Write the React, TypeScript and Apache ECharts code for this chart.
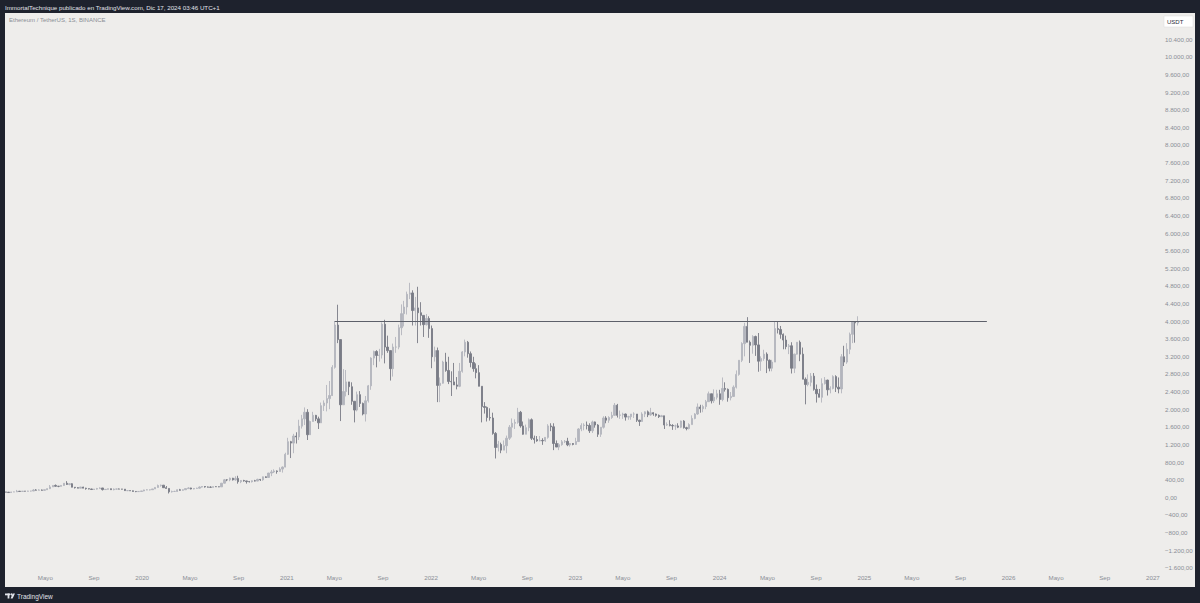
import React, { useEffect, useRef } from 'react';
import * as echarts from 'echarts';

// ---------- DATA (weekly ETH/USDT candles, Binance) ----------
// Each row: [high, low, close]; a week's open is the previous week's close.
const firstWeekStart = '2019-01-21';
const firstOpen = 119;

const w2019: number[][] = [
  [123, 113, 116], [117, 102, 107], [124, 104, 120], [125, 118, 121], [166, 121, 137],
  [142, 130, 131], [141, 124, 139], [140, 131, 136], [146, 133, 141], [144, 131, 141],
  [185, 139, 164], [183, 155, 161], [180, 158, 164], [175, 150, 158], [168, 151, 170],
  [200, 165, 195], [278, 186, 234], [270, 235, 268], [290, 240, 250], [255, 228, 247],
  [273, 243, 268], [320, 260, 318], [366, 280, 291], [315, 272, 307], [318, 226, 228],
  [233, 198, 218], [230, 205, 206], [235, 205, 232], [238, 205, 206], [215, 172, 195],
  [200, 180, 187], [192, 164, 178], [186, 170, 185], [212, 174, 197], [226, 196, 211],
  [212, 153, 174], [184, 169, 180], [196, 175, 194], [196, 170, 172], [200, 157, 185],
  [192, 176, 187], [197, 182, 185], [189, 180, 184], [185, 142, 151], [160, 140, 151],
  [152, 144, 147], [152, 130, 132], [135, 116, 128], [133, 122, 132], [145, 125, 143],
];

const w2020: number[][] = [
  [171, 136, 166], [180, 160, 168], [172, 155, 171], [190, 167, 189], [229, 187, 223],
  [288, 222, 267], [287, 240, 274], [279, 210, 217], [254, 198, 200], [202, 86, 123],
  [150, 107, 131], [147, 122, 131], [178, 124, 170], [190, 150, 158], [176, 150, 170],
  [200, 168, 196], [228, 190, 211], [216, 178, 187], [210, 180, 199], [217, 196, 206],
  [248, 197, 231], [253, 220, 244], [250, 220, 233], [243, 225, 229], [249, 216, 225],
  [245, 222, 241], [249, 235, 239], [244, 230, 236], [324, 234, 319], [415, 313, 396],
  [410, 365, 395], [445, 363, 433], [440, 380, 395], [477, 375, 428], [488, 308, 353],
  [390, 320, 381], [395, 355, 371], [375, 310, 356], [370, 335, 353], [380, 335, 374],
  [395, 360, 368], [420, 363, 406], [415, 370, 396], [470, 375, 464], [475, 440, 449],
  [555, 440, 549], [620, 480, 575], [635, 550, 597], [610, 535, 584], [680, 580, 640],
  [700, 560, 685], [1010, 680, 975],
];

const w2021: number[][] = [
  [1350, 960, 1262], [1280, 890, 1230], [1440, 1000, 1390], [1476, 1220, 1370], [1760, 1300, 1615],
  [1870, 1560, 1780], [2040, 1640, 1930], [2000, 1300, 1420], [1740, 1420, 1720], [1940, 1720, 1860],
  [1870, 1730, 1780], [1830, 1550, 1690], [2150, 1690, 2080], [2200, 1960, 2140], [2550, 1950, 2240],
  [2640, 2000, 2310], [3000, 2300, 2950], [4000, 2920, 3910], [4372, 3500, 3580], [3560, 1730, 2100],
  [2910, 2100, 2400], [2890, 2290, 2620], [2620, 2320, 2510], [2610, 2100, 2180], [2180, 1700, 1980],
  [2400, 1950, 2330], [2410, 2050, 2130], [2150, 1860, 1890], [2300, 1720, 2190], [2550, 2150, 2530],
  [3180, 2440, 3160], [3330, 3000, 3310], [3340, 2950, 3220], [3370, 3080, 3230], [3970, 3150, 3930],
  [4030, 3040, 3410], [3670, 3280, 3330], [3300, 2650, 2920], [3490, 2740, 3410], [3640, 3280, 3410],
  [3920, 3360, 3850], [4380, 3680, 4170], [4460, 3880, 4320], [4670, 4150, 4610], [4870, 4500, 4640],
  [4700, 3900, 4240], [4550, 3900, 4300], [4780, 3500, 4190], [4430, 3900, 4130], [4100, 3640, 3920],
  [4160, 3900, 4060], [4110, 3620, 3830],
];

const w2022: number[][] = [
  [3900, 2930, 3190], [3420, 3080, 3330], [3400, 2160, 2540], [2720, 2160, 2590], [3100, 2580, 3070],
  [3280, 2850, 2880], [3190, 2570, 2630], [2860, 2300, 2620], [3050, 2570, 2550], [2730, 2450, 2520],
  [3050, 2500, 2860], [3320, 2830, 3300], [3580, 3200, 3520], [3550, 3170, 3260], [3310, 2950, 3060],
  [3190, 2850, 2920], [3040, 2700, 2830], [3000, 2520, 2520], [2520, 1700, 2060], [2160, 1900, 2040],
  [2060, 1720, 1810], [2020, 1740, 1800], [1920, 1420, 1450], [1480, 880, 1130], [1280, 1040, 1200],
  [1240, 1000, 1070], [1290, 1070, 1170], [1400, 1000, 1340], [1640, 1300, 1590], [1790, 1360, 1680],
  [1770, 1550, 1700], [2030, 1670, 1930], [1960, 1580, 1620], [1720, 1420, 1430], [1650, 1430, 1580],
  [1790, 1500, 1760], [1790, 1300, 1340], [1400, 1220, 1310], [1390, 1260, 1280], [1390, 1270, 1290],
  [1340, 1190, 1280], [1350, 1260, 1360], [1660, 1330, 1620], [1680, 1500, 1600], [1680, 1070, 1220],
  [1290, 1150, 1140], [1230, 1070, 1195], [1300, 1170, 1260], [1300, 1230, 1270], [1350, 1160, 1190],
  [1230, 1150, 1220], [1230, 1180, 1200],
];

const w2023: number[][] = [
  [1350, 1190, 1265], [1570, 1260, 1550], [1680, 1500, 1630], [1680, 1520, 1640], [1720, 1540, 1630],
  [1680, 1460, 1510], [1740, 1460, 1710], [1720, 1580, 1640], [1660, 1370, 1430], [1590, 1370, 1590],
  [1840, 1560, 1800], [1840, 1680, 1750], [1840, 1690, 1810], [1940, 1780, 1860], [2140, 1850, 2090],
  [2120, 1810, 1860], [1970, 1780, 1870], [1920, 1780, 1890], [1900, 1740, 1820], [1850, 1760, 1830],
  [1860, 1760, 1890], [1930, 1800, 1890], [1890, 1710, 1750], [1760, 1620, 1720], [1930, 1720, 1890],
  [1950, 1820, 1940], [1970, 1820, 1870], [2030, 1850, 1920], [1930, 1850, 1890], [1900, 1830, 1860],
  [1880, 1800, 1830], [1870, 1820, 1850], [1850, 1550, 1640], [1700, 1620, 1650], [1750, 1610, 1630],
  [1660, 1530, 1620], [1650, 1530, 1620], [1680, 1570, 1590], [1740, 1570, 1730], [1750, 1560, 1580],
  [1600, 1520, 1560], [1680, 1540, 1650], [1860, 1650, 1790], [1910, 1770, 1890], [2130, 1870, 2050],
  [2100, 1920, 2010], [2100, 1930, 2060], [2210, 2000, 2170], [2400, 2180, 2350], [2350, 2130, 2190],
  [2450, 2140, 2270], [2440, 2220, 2350],
];

const w2024: number[][] = [
  [2440, 2100, 2220], [2720, 2180, 2470], [2610, 2400, 2450], [2470, 2170, 2260], [2390, 2200, 2290],
  [2540, 2280, 2500], [2880, 2470, 2790], [3030, 2760, 3110], [3520, 3070, 3490], [3960, 3200, 3880],
  [4090, 3570, 3520], [3560, 3050, 3450], [3680, 3260, 3650], [3670, 3210, 3460], [3730, 2850, 3090],
  [3200, 2870, 3150], [3350, 3100, 3250], [3290, 2820, 3110], [3130, 2860, 2930], [3120, 2860, 3070],
  [3980, 3070, 3830], [3980, 3720, 3810], [3890, 3600, 3700], [3720, 3360, 3570], [3670, 3360, 3420],
  [3480, 3250, 3440], [3520, 2810, 2930], [3260, 2820, 3250], [3520, 3240, 3520], [3560, 3090, 3250],
  [3400, 2700, 2680], [2720, 2110, 2560], [2790, 2520, 2610], [2820, 2520, 2750], [2820, 2420, 2450],
  [2560, 2150, 2350], [2460, 2270, 2270], [2700, 2150, 2580], [2730, 2560, 2660], [2670, 2310, 2440],
  [2520, 2360, 2470], [2770, 2450, 2740], [2770, 2390, 2500], [2720, 2360, 2460], [3250, 2360, 3190],
  [3440, 2980, 3070], [3500, 3030, 3360], [3740, 3250, 3700], [4000, 3500, 3990], [4000, 3510, 3960],
  [4110, 3900, 3990],
];

// Horizontal level drawn on the chart
const levelValue = 4000;
const levelStart = '2021-05-02';
const levelEnd = '2025-11-07';

// Time-axis tick labels
const xTickDates = [
  '2019-05-01', '2019-09-01', '2020-01-01', '2020-05-01', '2020-09-01', '2021-01-01',
  '2021-05-01', '2021-09-01', '2022-01-01', '2022-05-01', '2022-09-01', '2023-01-01',
  '2023-05-01', '2023-09-01', '2024-01-01', '2024-05-01', '2024-09-01', '2025-01-01',
  '2025-05-01', '2025-09-01', '2026-01-01', '2026-05-01', '2026-09-01', '2027-01-01',
];
const xTickLabels = [
  'Mayo', 'Sep', '2020', 'Mayo', 'Sep', '2021',
  'Mayo', 'Sep', '2022', 'Mayo', 'Sep', '2023',
  'Mayo', 'Sep', '2024', 'Mayo', 'Sep', '2025',
  'Mayo', 'Sep', '2026', 'Mayo', 'Sep', '2027',
];
const xViewStart = '2019-01-19';
const xViewEnd = '2027-01-19';

// Price axis
const yMin = -1600;
const yMax = 10400;
const yStep = 400;

// Texts
const headerText = 'ImmortalTechnique publicado en TradingView.com, Dic 17, 2024 03:46 UTC+1';
const symbolText = 'Ethereum / TetherUS, 1S, BINANCE';
const currencyText = 'USDT';
const brandText = 'TradingView';

// ---------- helpers ----------
const ts = (d: string) => Date.parse(d + 'T00:00:00Z');
const WEEK_MS = 7 * 86400000;

function buildCandles() {
  const rows = [...w2019, ...w2020, ...w2021, ...w2022, ...w2023, ...w2024];
  const t0 = ts(firstWeekStart);
  let open = firstOpen;
  return rows.map(([h, l, c], i) => {
    const item = [t0 + i * WEEK_MS, open, c, Math.min(l, open, c), Math.max(h, open, c)];
    open = c;
    return item;
  });
}

function fmtPrice(v: number) {
  const a = Math.abs(v).toFixed(0).replace(/\B(?=(\d{3})+(?!\d))/g, '.');
  return (v < 0 ? '\u2212' : '') + a + ',00';
}

const FRAME = '#1e222d';
const PANEL = '#eeedeb';
const FONT = 'Liberation Sans, Arial, sans-serif';
const UP = '#b3b5bd';
const DOWN = '#797c86';

export default function App() {
  const ref = useRef<HTMLDivElement>(null);

  useEffect(() => {
    if (!ref.current) return;
    const chart = echarts.init(ref.current, undefined, { renderer: 'svg' });
    const candles = buildCandles();
    const tickTs = xTickDates.map(ts);
    const labelMap = new Map<number, string>();
    tickTs.forEach((t, i) => labelMap.set(t, xTickLabels[i]));

    const option: any = {
      animation: false,
      backgroundColor: PANEL,
      textStyle: { fontFamily: FONT },
      grid: {
        left: 5,
        right: 40,
        top: 39.3,
        bottom: 35.3,
        outerBoundsMode: 'none',
        containLabel: false,
      },
      xAxis: {
        type: 'value',
        min: ts(xViewStart),
        max: ts(xViewEnd),
        axisLine: { show: false },
        axisTick: { show: false },
        splitLine: { show: false },
        axisLabel: {
          customValues: tickTs,
          formatter: (v: number) => labelMap.get(v) ?? '',
          color: '#8a8d96',
          fontSize: 6.2,
          margin: 7,
          fontFamily: FONT,
        },
      },
      yAxis: {
        type: 'value',
        position: 'right',
        min: yMin,
        max: yMax,
        interval: yStep,
        axisLine: { show: false },
        axisTick: { show: false },
        splitLine: { show: false },
        axisLabel: {
          formatter: (v: number) => fmtPrice(v),
          color: '#8a8d96',
          fontSize: 6.2,
          margin: 5,
          align: 'left',
          fontFamily: FONT,
        },
      },
      series: [
        {
          type: 'candlestick',
          data: candles,
          barWidth: 1.8,
          itemStyle: {
            color: UP,
            color0: DOWN,
            borderColor: UP,
            borderColor0: DOWN,
            borderWidth: 0.9,
          },
          markLine: {
            silent: true,
            symbol: ['none', 'none'],
            label: { show: false },
            lineStyle: { color: '#5d606a', width: 1.2, type: 'solid' },
            data: [
              [
                { coord: [ts(levelStart), levelValue] },
                { coord: [ts(levelEnd), levelValue] },
              ],
            ],
          },
        },
      ],
      graphic: [
        { type: 'rect', shape: { x: 0, y: 0, width: 1200, height: 13 }, style: { fill: FRAME }, silent: true },
        { type: 'rect', shape: { x: 0, y: 587, width: 1200, height: 16 }, style: { fill: FRAME }, silent: true },
        { type: 'rect', shape: { x: 0, y: 0, width: 5, height: 603 }, style: { fill: FRAME }, silent: true },
        { type: 'rect', shape: { x: 1195, y: 0, width: 5, height: 603 }, style: { fill: FRAME }, silent: true },
        {
          type: 'text', x: 5, y: 7.5,
          style: { text: headerText, fill: '#e1e3ea', fontSize: 6.2, fontFamily: FONT, verticalAlign: 'middle' },
        },
        {
          type: 'text', x: 9, y: 20,
          style: { text: symbolText, fill: '#8a8d96', fontSize: 6, fontFamily: FONT, verticalAlign: 'middle' },
        },
        {
          type: 'rect', shape: { x: 1164, y: 16, width: 29, height: 11 },
          style: { fill: '#ffffff', stroke: '#d8d8d8', lineWidth: 0.5 },
        },
        {
          type: 'text', x: 1167, y: 21.5,
          style: { text: currencyText, fill: '#2a2e39', fontSize: 6, fontFamily: FONT, verticalAlign: 'middle' },
        },
        // TradingView logo (simplified) and brand text
        { type: 'rect', shape: { x: 5, y: 593.5, width: 5, height: 1.8 }, style: { fill: '#e1e3ea' } },
        { type: 'rect', shape: { x: 7.6, y: 593.5, width: 1.8, height: 5 }, style: { fill: '#e1e3ea' } },
        { type: 'circle', shape: { cx: 11.3, cy: 594.4, r: 0.9 }, style: { fill: '#e1e3ea' } },
        { type: 'polygon', shape: { points: [[12.6, 593.5], [15, 593.5], [12.6, 598.5], [10.6, 598.5]] }, style: { fill: '#e1e3ea' } },
        {
          type: 'text', x: 17, y: 596,
          style: { text: brandText, fill: '#e1e3ea', fontSize: 6.5, fontFamily: FONT, verticalAlign: 'middle' },
        },
      ],
    };
    chart.setOption(option);
    return () => chart.dispose();
  }, []);

  return (
    <div
      ref={ref}
      style={{ position: 'absolute', left: 0, top: 0, width: 1200, height: 603 }}
    />
  );
}
